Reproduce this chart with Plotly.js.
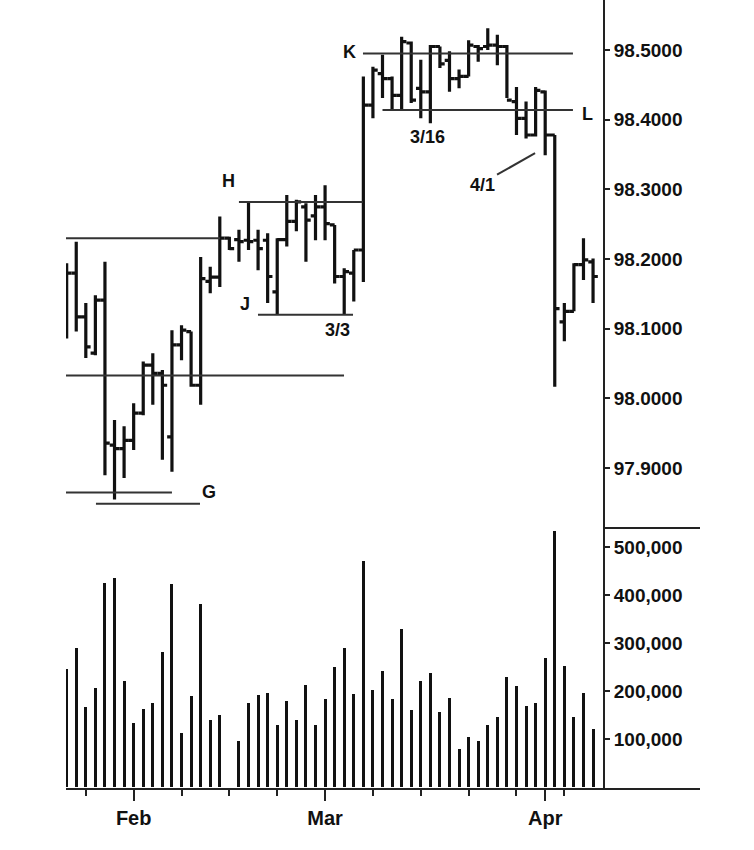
<!DOCTYPE html>
<html>
<head>
<meta charset="utf-8">
<script src="https://cdn.plot.ly/plotly-3.0.1.min.js"></script>
<style>html,body{margin:0;padding:0;background:#fff;}#chart{width:754px;height:850px;}</style>
</head>
<body>
<div id="chart"></div>
<script>
// ---- data (daily bars, 1999) ----
const dates = [
 '1999-01-21','1999-01-22','1999-01-25','1999-01-26','1999-01-27','1999-01-28','1999-01-29',
 '1999-02-01','1999-02-02','1999-02-03','1999-02-04','1999-02-05','1999-02-08','1999-02-09','1999-02-10','1999-02-11','1999-02-12',
 '1999-02-15','1999-02-16','1999-02-17','1999-02-18','1999-02-19','1999-02-22','1999-02-23','1999-02-24','1999-02-25','1999-02-26',
 '1999-03-01','1999-03-02','1999-03-03','1999-03-04','1999-03-05','1999-03-08','1999-03-09','1999-03-10','1999-03-11','1999-03-12',
 '1999-03-15','1999-03-16','1999-03-17','1999-03-18','1999-03-19','1999-03-22','1999-03-23','1999-03-24','1999-03-25','1999-03-26',
 '1999-03-29','1999-03-30','1999-03-31','1999-04-01','1999-04-02','1999-04-05','1999-04-06','1999-04-07','1999-04-08'
];
const openP = [98.113,98.180,98.117,98.065,98.141,97.933,97.928,97.940,97.979,98.048,98.036,97.945,98.077,98.096,98.019,98.168,98.174,
 98.230,98.228,98.227,98.227,98.227,98.153,98.228,98.254,98.275,98.262,
 98.275,98.249,98.175,98.180,98.213,98.421,98.466,98.459,98.435,98.510,
 98.445,98.440,98.505,98.485,98.459,98.462,98.505,98.505,98.507,98.505,
 98.426,98.402,98.378,98.440,98.378,98.110,98.125,98.192,98.196];
const highP = [98.194,98.225,98.137,98.148,98.196,97.969,97.960,97.993,98.053,98.065,98.041,98.098,98.105,98.096,98.203,98.189,98.261,
 98.232,98.242,98.282,98.242,98.237,98.230,98.292,98.285,98.280,98.292,
 98.306,98.249,98.187,98.213,98.462,98.476,98.493,98.462,98.519,98.512,
 98.486,98.507,98.505,98.498,98.472,98.514,98.507,98.531,98.522,98.507,
 98.447,98.426,98.447,98.442,98.378,98.137,98.194,98.230,98.201];
const lowP = [98.086,98.096,98.058,98.062,97.890,97.855,97.886,97.926,97.976,97.991,97.912,97.895,98.055,98.017,97.991,98.151,98.160,
 98.213,98.196,98.213,98.184,98.137,98.120,98.218,98.240,98.196,98.227,
 98.227,98.165,98.120,98.139,98.167,98.402,98.431,98.414,98.414,98.424,
 98.402,98.395,98.474,98.440,98.445,98.462,98.483,98.500,98.478,98.431,
 98.378,98.373,98.376,98.349,98.017,98.082,98.125,98.170,98.137];
const closeP = [98.180,98.117,98.074,98.141,97.936,97.928,97.940,97.979,98.048,98.036,98.019,98.077,98.098,98.019,98.172,98.174,98.230,
 98.215,98.225,98.225,98.215,98.175,98.228,98.254,98.282,98.256,98.275,
 98.251,98.175,98.182,98.213,98.421,98.471,98.459,98.435,98.512,98.428,
 98.440,98.505,98.480,98.459,98.462,98.507,98.502,98.507,98.505,98.428,
 98.402,98.378,98.442,98.378,98.129,98.125,98.192,98.199,98.175];
const volume = [246000,289000,166000,206000,426000,435000,221000,133000,163000,176000,282000,422000,113000,190000,382000,139000,149000,
 null,96000,176000,192000,195000,129000,179000,139000,212000,129000,
 183000,249000,289000,193000,471000,202000,242000,183000,329000,160000,
 221000,238000,156000,185000,80000,105000,96000,129000,146000,229000,
 210000,169000,176000,269000,533000,253000,146000,196000,120000];
const priceTicks = [97.9,98.0,98.1,98.2,98.3,98.4,98.5];
const volumeTicks = [100000,200000,300000,400000,500000];
const monthNames = ['Jan','Feb','Mar','Apr'];

// reference lines drawn on the chart: level, from index, to index (null = left edge)
const refLevels = [98.230, 98.033, 97.865, 97.849, 98.282, 98.120, 98.495, 98.414];
const refFrom   = [null,   null,   null,   3.06,   18.0,   19.99,  30.96,  33.0];
const refTo     = [16.02,  28.98,  11.0,   13.93,  30.93,  29.92,  52.9,   52.9];
// text labels
const labelText = ['K','L','G','H','J','3/3','3/16','4/1'];
const labelX    = [29.6, 54.47, 14.85, 16.86, 18.63, 28.35, 37.75, 43.4];
const labelY    = [98.497, 98.408, 97.866, 98.312, 98.136, 98.098, 98.375, 98.306];

// ---- build ----
const xIdx = dates.map((d,i)=>i);
const monthIdx = [], monthLab = [], mondayIdx = [];
dates.forEach((d,i)=>{
  const dt = new Date(d+'T00:00:00Z');
  if (i>0 && dates[i-1].slice(5,7)!==d.slice(5,7)) { monthIdx.push(i); monthLab.push(monthNames[dt.getUTCMonth()]); }
  if (dt.getUTCDay()===1) mondayIdx.push(i);
});
const xRange = [-0.07, 56.04];

const traces = [
 {type:'ohlc', x:xIdx, open:openP, high:highP, low:lowP, close:closeP, xaxis:'x', yaxis:'y',
  increasing:{line:{color:'#111',width:3.2}}, decreasing:{line:{color:'#111',width:3.2}},
  tickwidth:0.5, hoverinfo:'skip', showlegend:false},
 {type:'bar', x:xIdx, y:volume, xaxis:'x', yaxis:'y2', width:0.32,
  marker:{color:'#111', line:{width:0}}, hoverinfo:'skip', showlegend:false}
];

const shapes = [];
refLevels.forEach((lv,i)=>{
  shapes.push({type:'line', xref:'x', yref:'y', x0: refFrom[i]===null ? xRange[0] : refFrom[i], x1: refTo[i],
    y0:lv, y1:lv, line:{color:'#333', width:2}});
});
// leader line for 4/1
shapes.push({type:'line', xref:'x', yref:'y', x0:44.97, y0:98.321, x1:48.94, y1:98.352, line:{color:'#333',width:2}});
// bottom axis line extended under label column, and panel divider in label column
const ext = (700-66)/537;
shapes.push({type:'line', xref:'paper', yref:'paper', x0:0, x1:ext, y0:0, y1:0, line:{color:'#222',width:2}});
shapes.push({type:'line', xref:'paper', yref:'paper', x0:1, x1:ext, y0:0.3308, y1:0.3308, line:{color:'#222',width:2}});

const annotations = labelText.map((t,i)=>({
  text:t, x:labelX[i], y:labelY[i], xref:'x', yref:'y', showarrow:false,
  xanchor:'center', yanchor:'middle', font:{size:18, color:'#111', weight:'bold'}
}));

const fontFam = 'Liberation Sans, Arial, sans-serif';
const layout = {
  width:754, height:850, margin:{l:66, r:151, t:0, b:61},
  paper_bgcolor:'#fff', plot_bgcolor:'#fff', showlegend:false,
  font:{family:fontFam, color:'#111'},
  xaxis:{range:xRange, anchor:'y2', rangeslider:{visible:false}, showgrid:false, zeroline:false, showline:false,
    tickmode:'array', tickvals:monthIdx, ticktext:monthLab, ticks:'outside', ticklen:11, tickwidth:2, tickcolor:'#222',
    tickfont:{size:20, weight:'bold', family:fontFam},
    minor:{tickmode:'array', tickvals:mondayIdx, ticks:'outside', ticklen:6, tickwidth:2, tickcolor:'#222', showgrid:false}},
  yaxis:{domain:[0.3308,1], range:[97.8142,98.5717], side:'right', anchor:'x', showgrid:false, zeroline:false,
    showline:true, linewidth:2, linecolor:'#222', tickmode:'array', tickvals:priceTicks, tickformat:'.4f',
    ticks:'outside', ticklen:5, tickwidth:2, tickcolor:'#222', tickfont:{size:19, weight:'bold', family:fontFam}},
  yaxis2:{domain:[0,0.3308], range:[-4167,539583], side:'right', anchor:'x', showgrid:false, zeroline:false,
    showline:true, linewidth:2, linecolor:'#222', tickmode:'array', tickvals:volumeTicks, tickformat:',d',
    ticks:'outside', ticklen:5, tickwidth:2, tickcolor:'#222', tickfont:{size:19, weight:'bold', family:fontFam}},
  shapes:shapes, annotations:annotations, bargap:0
};
Plotly.newPlot('chart', traces, layout, {displayModeBar:false, staticPlot:true});
</script>
</body>
</html>
